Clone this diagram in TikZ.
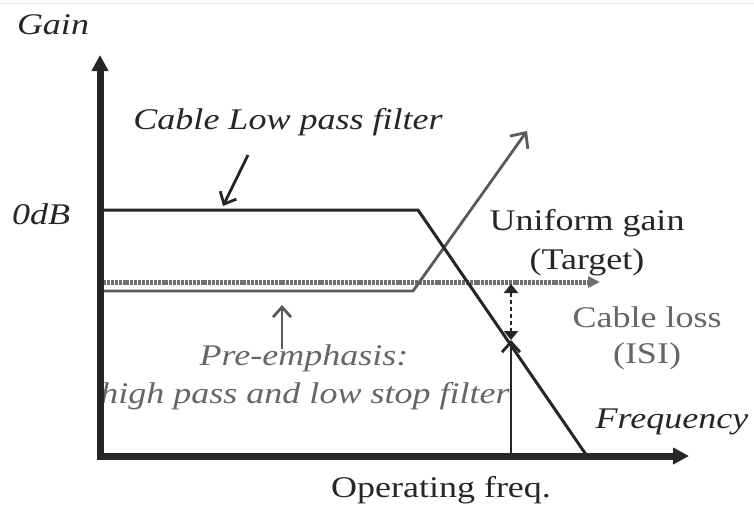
\documentclass[tikz,border=0pt]{standalone}
\usepackage{fontspec}
\setmainfont[FakeStretch=1.2]{Liberation Serif}
\usetikzlibrary{arrows.meta}
\definecolor{ink}{HTML}{262626}
\definecolor{greyink}{HTML}{5A5A5A}
\definecolor{greytext}{HTML}{666666}
\definecolor{dotgrey}{HTML}{707070}
\tikzset{
  lbl/.style={font=\fontsize{30}{34}\selectfont, text=ink, inner sep=0pt},
  ilbl/.style={lbl, font=\fontsize{30}{34}\selectfont\itshape},
  axis/.style={line width=7pt, ink, -{Triangle[length=16pt,width=16pt]}},
  curve/.style={line width=3pt, ink},
  pointer/.style={line width=2.8pt, -{Straight Barb[length=10pt,width=18pt,line width=2.8pt]}},
}
\begin{document}
\begin{tikzpicture}[x=1pt,y=-1pt]
  \useasboundingbox (0,0) rectangle (754,504);
  \fill[white] (0,0) rectangle (754,504);
  \draw[line width=1pt, black!12] (0,3) -- (754,3);

  % labels
  \node[ilbl] (gain) at (53,25) {Gain};
  \node[ilbl] (zerodb) at (41,214) {0dB};
  \node[ilbl] (lpf) at (288,122) {Cable Low pass filter};
  \node[lbl] (uni) at (587,223) {Uniform gain};
  \node[lbl] (target) at (587,262) {(Target)};
  \node[lbl, text=greytext] (loss) at (647,317) {Cable loss};
  \node[lbl, text=greytext] (isi) at (647,356) {(ISI)};
  \node[ilbl] (freq) at (672,422) {Frequency};
  \node[lbl] (opf) at (441,490) {Operating freq.};
  \node[ilbl, text=greytext] (pre) at (304,358) {Pre-emphasis:};
  \node[ilbl, text=greytext] (hp) at (305,396) {high pass and low stop filter};

  % key points of the curves
  \coordinate (o) at (100,456);
  \coordinate (ytip) at (100,55);
  \coordinate (xtip) at (689,456);
  \coordinate (l0) at (103,210);
  \coordinate (l1) at (418,210);
  \coordinate (l2) at (587,456);
  \coordinate (p0) at (103,291);
  \coordinate (p1) at (413,291);
  \coordinate (p2) at (527,131);
  \coordinate (t0) at (103,282);
  \coordinate (t1) at (600,282);
  \coordinate (op) at (511,456);
  \coordinate (cut) at (511,340);
  \coordinate (uhead) at (511,284);

  % stacked target and pre-emphasis lines
  \draw[line width=5pt, dotgrey, dash pattern=on 3pt off 0.9pt,
        -{Triangle[length=12pt,width=11pt]}] (t0) -- (t1);
  \draw[line width=2.8pt, greyink, -{Straight Barb[length=12pt,width=22pt,line width=2.8pt]}]
        (p0) -- (p1) -- (p2);

  % cable low pass response
  \draw[curve] (l0) -- (l1) -- (l2);

  % operating frequency marker and cable loss span
  \draw[pointer, ink] (op) -- (cut);
  \draw[line width=2.6pt, ink, dash pattern=on 4pt off 3pt,
        {Triangle[length=9pt,width=14pt]}-{Triangle[length=9pt,width=14pt]}]
        (cut) -- (uhead);

  % label pointers
  \coordinate (lpfa) at (248,155);
  \coordinate (lpfb) at (223,206);
  \draw[pointer, ink] (lpfa) -- (lpfb);
  \coordinate (prea) at (282,349);
  \coordinate (preb) at (282,305);
  \draw[pointer, greyink] (prea) -- (preb);

  % axes
  \draw[axis] (100,459.5) -- (ytip);
  \draw[axis] (96.5,456) -- (xtip);
\end{tikzpicture}
\end{document}
